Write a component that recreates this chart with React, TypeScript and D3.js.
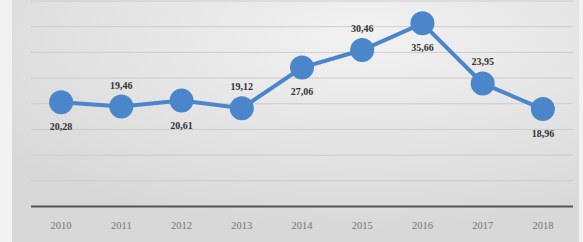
import React from 'react';
import * as d3 from 'd3';

const years = ['2010', '2011', '2012', '2013', '2014', '2015', '2016', '2017', '2018'];
const values = [20.28, 19.46, 20.61, 19.12, 27.06, 30.46, 35.66, 23.95, 18.96];
const labelBelow = [true, false, true, false, true, false, true, false, true];
const gridTicks = [5, 10, 15, 20, 25, 30, 35, 40];

const W = 583;
const H = 242;
const BLUE = '#4a86c9';

export default function App() {
  const x = d3.scaleBand<string>().domain(years).range([31, 573]);
  const y = d3.scaleLinear().domain([0, 40]).range([206.5, 1]);
  const cx = (d: string) => (x(d) as number) + x.bandwidth() / 2;
  const line = d3
    .line<number>()
    .x((_, i) => cx(years[i]))
    .y(v => y(v));
  const fmt = (v: number) => v.toFixed(2).replace('.', ',');

  return (
    <svg width={W} height={H} style={{ position: 'absolute', left: 0, top: 0 }}>
      <defs>
        <radialGradient id="bg" cx="0.62" cy="0.15" r="0.8">
          <stop offset="0" stopColor="#f2f2f2" />
          <stop offset="1" stopColor="#d8d8d8" />
        </radialGradient>
      </defs>
      <rect width={W} height={H} fill="#f2f2f2" />
      <rect x={12} y={0} width={W - 16} height={H} fill="url(#bg)" />
      {gridTicks.map(t => (
        <line key={t} x1={31} x2={573} y1={y(t)} y2={y(t)} stroke="#cdcdcd" strokeWidth={1} />
      ))}
      <line x1={31} x2={573} y1={y(0)} y2={y(0)} stroke="#555" strokeWidth={2} />
      {years.map(yr => (
        <text
          key={yr}
          x={cx(yr)}
          y={229}
          textAnchor="middle"
          fontFamily="Liberation Serif, serif"
          fontSize={10.5}
          fill="#777"
        >
          {yr}
        </text>
      ))}
      <path d={line(values) || ''} fill="none" stroke={BLUE} strokeWidth={4} />
      {values.map((v, i) => (
        <circle key={i} cx={cx(years[i])} cy={y(v)} r={12} fill={BLUE} />
      ))}
      {values.map((v, i) => (
        <text
          key={'l' + i}
          x={cx(years[i])}
          y={labelBelow[i] ? y(v) + 28 : y(v) - 18}
          textAnchor="middle"
          fontFamily="Liberation Serif, serif"
          fontSize={10}
          fontWeight="bold"
          fill="#333"
        >
          {fmt(v)}
        </text>
      ))}
    </svg>
  );
}
